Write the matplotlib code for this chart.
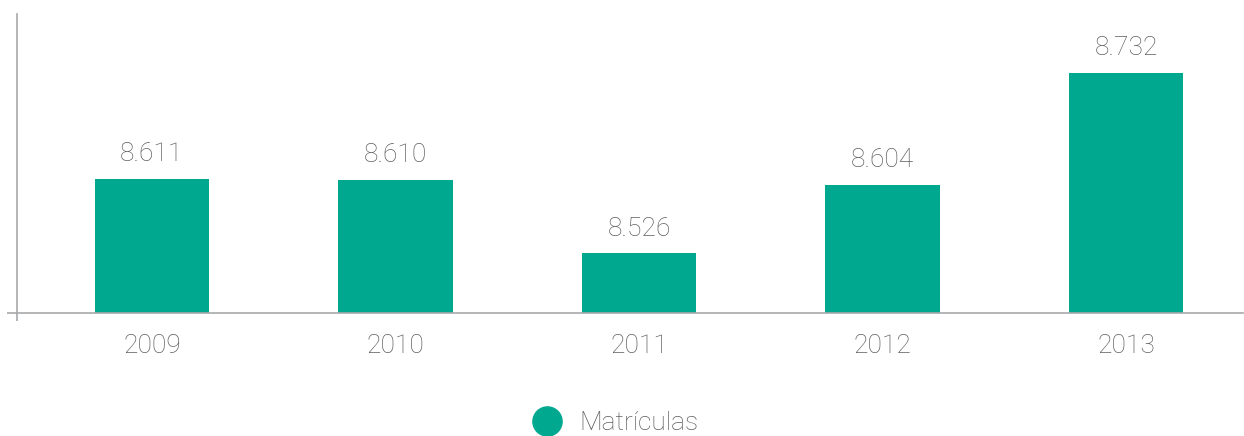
import matplotlib.pyplot as plt
from matplotlib.lines import Line2D

years = ["2009", "2010", "2011", "2012", "2013"]
matriculas = [8611, 8610, 8526, 8604, 8732]

teal = "#00a88f"
grey_txt = "#5e5f62"
grey_ax = "#a7a9ac"

plt.rcParams["font.family"] = ["Roboto", "DejaVu Sans"]

fig = plt.figure(figsize=(12.44, 4.36), dpi=100)
ax = fig.add_axes([17 / 1244, 1 - 313 / 436, 1226 / 1244, 299 / 436])

x = range(len(years))
bars = ax.bar(x, matriculas, width=0.47, color=teal, zorder=2)
for b, v in zip(bars, matriculas):
    ax.annotate(f"{v:,}".replace(",", "."), (b.get_x() + b.get_width() / 2, v),
                xytext=(0, 9), textcoords="offset points", ha="center", va="bottom",
                fontsize=19, color=grey_txt, fontweight="light")

ax.set_xlim(-0.554, 4.48)
ax.set_ylim(8457.6, 8799)
ax.set_xticks(list(x))
ax.set_xticklabels(years, fontsize=19, color=grey_txt, fontweight="light")
ax.tick_params(axis="x", length=0, pad=15)
ax.set_yticks([8457.6])
ax.set_yticklabels([""])
ax.tick_params(axis="y", length=7.5, width=1.2, color=grey_ax, direction="out")
ax.set_xticks([-0.554], minor=True)
ax.tick_params(axis="x", which="minor", length=6, width=1.2, color=grey_ax)

for s in ["top", "right"]:
    ax.spines[s].set_visible(False)
for s in ["left", "bottom"]:
    ax.spines[s].set_color(grey_ax)
    ax.spines[s].set_linewidth(1.2)

handle = Line2D([], [], marker="o", linestyle="", markersize=21, color=teal)
fig.legend([handle], ["Matrículas"], loc="center", bbox_to_anchor=(0.49, 0.03),
           frameon=False, prop={"size": 19, "weight": "light"}, labelcolor=grey_txt,
           handletextpad=0.2)

fig.savefig("out.png", dpi=100)
